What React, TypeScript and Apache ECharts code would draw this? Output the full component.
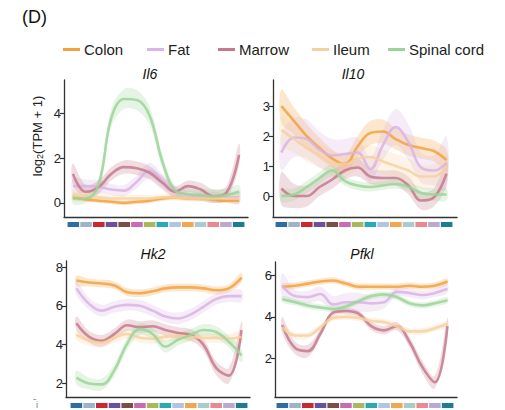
import React, { useEffect, useRef } from "react";
import * as echarts from "echarts";

// ---------- data ----------
const tissues = ["Colon", "Fat", "Marrow", "Ileum", "Spinal cord"];
const tissueColors = ["#f2a241", "#d9b4e4", "#c47a8c", "#f8d0a0", "#9cd498"];
const cellTypeColors = [
  "#2e6da4", "#9fb3c8", "#c8282e", "#6b4fa0", "#7a4e45", "#c86bb5", "#a8b85c",
  "#2aa8b8", "#b0c4e6", "#f2a64e", "#a8cccc", "#e98a92", "#bba9d4", "#1b7c93",
];
const cellIndex = [0, 1, 2, 3, 4, 5, 6, 7, 8, 9, 10, 11, 12, 13];
const genes = ["Il6", "Il10", "Hk2", "Pfkl"];

// means per tissue (Colon, Fat, Marrow, Ileum, Spinal cord)
const il6Mean = [
  [0.25, 0.15, 0.1, 0.05, 0.0, 0.05, 0.1, 0.2, 0.25, 0.2, 0.2, 0.15, 0.1, 0.1],
  [0.75, 0.75, 0.72, 0.6, 0.55, 0.95, 1.45, 1.0, 0.5, 0.35, 0.3, 0.3, 0.25, 0.25],
  [1.3, 0.5, 0.7, 1.3, 1.6, 1.55, 1.35, 0.9, 0.5, 0.75, 0.6, 0.3, 0.45, 2.15],
  [0.35, 0.3, 0.25, 0.2, 0.2, 0.2, 0.2, 0.25, 0.25, 0.2, 0.2, 0.2, 0.2, 0.2],
  [0.2, 0.2, 0.8, 3.8, 4.65, 4.6, 3.9, 1.85, 0.55, 0.4, 0.35, 0.3, 0.35, 0.5],
];
const il6Band = [
  [0.1, 0.1, 0.1, 0.1, 0.1, 0.1, 0.1, 0.1, 0.1, 0.1, 0.1, 0.1, 0.1, 0.1],
  [0.35, 0.3, 0.3, 0.25, 0.25, 0.3, 0.35, 0.3, 0.25, 0.2, 0.2, 0.2, 0.2, 0.3],
  [0.45, 0.3, 0.3, 0.3, 0.3, 0.3, 0.3, 0.3, 0.25, 0.25, 0.3, 0.3, 0.3, 0.5],
  [0.25, 0.2, 0.15, 0.15, 0.15, 0.15, 0.15, 0.15, 0.15, 0.15, 0.15, 0.2, 0.2, 0.25],
  [0.25, 0.2, 0.3, 0.4, 0.45, 0.45, 0.4, 0.3, 0.2, 0.25, 0.25, 0.3, 0.3, 0.3],
];
const il10Mean = [
  [3.0, 2.5, 2.0, 1.6, 1.25, 1.05, 1.65, 2.1, 2.15, 1.9, 1.7, 1.6, 1.5, 1.2],
  [1.45, 1.95, 1.9, 1.55, 1.35, 1.4, 1.45, 0.9, 1.7, 2.3, 1.8, 0.95, 0.85, 1.1],
  [0.25, 0.0, 0.0, 0.3, 0.55, 0.85, 0.95, 0.65, 0.6, 0.6, 0.35, -0.15, -0.05, 0.75],
  [2.2, 1.9, 1.6, 1.35, 1.1, 1.05, 1.25, 1.3, 1.15, 1.0, 0.85, 0.65, 0.65, 1.0],
  [0.0, 0.05, 0.3, 0.6, 0.85, 0.5, 0.35, 0.3, 0.35, 0.4, 0.3, 0.1, 0.05, 0.05],
];
const il10Band = [
  [0.55, 0.45, 0.4, 0.35, 0.3, 0.3, 0.35, 0.4, 0.4, 0.35, 0.35, 0.35, 0.35, 0.35],
  [0.6, 0.65, 0.65, 0.6, 0.55, 0.5, 0.5, 0.4, 0.5, 0.6, 0.6, 0.5, 0.5, 0.9],
  [0.55, 0.4, 0.35, 0.3, 0.3, 0.3, 0.3, 0.25, 0.25, 0.25, 0.3, 0.3, 0.3, 0.4],
  [0.5, 0.45, 0.45, 0.4, 0.4, 0.4, 0.4, 0.4, 0.4, 0.4, 0.4, 0.4, 0.4, 0.45],
  [0.2, 0.2, 0.2, 0.2, 0.2, 0.15, 0.15, 0.15, 0.15, 0.15, 0.15, 0.2, 0.2, 0.2],
];
const hk2Mean = [
  [7.3, 7.2, 7.15, 7.05, 6.7, 6.65, 6.75, 6.9, 6.95, 6.95, 6.9, 6.8, 6.9, 7.45],
  [6.9, 6.1, 5.75, 5.95, 6.05, 6.0, 5.75, 5.45, 5.35, 5.55, 5.95, 6.35, 6.5, 6.5],
  [5.1, 4.4, 4.2, 4.55, 5.0, 4.9, 4.95, 4.75, 4.6, 4.5, 4.0, 2.8, 2.4, 4.75],
  [4.5, 4.2, 4.1, 4.35, 4.55, 4.35, 4.3, 4.4, 4.45, 4.4, 4.35, 4.35, 4.3, 4.4],
  [2.3, 2.0, 1.95, 2.7, 4.05, 4.8, 4.55, 3.9, 4.25, 4.5, 4.75, 4.65, 4.15, 3.45],
];
const hk2Band = [
  [0.25, 0.2, 0.2, 0.2, 0.2, 0.2, 0.2, 0.2, 0.2, 0.2, 0.2, 0.2, 0.2, 0.25],
  [0.35, 0.3, 0.3, 0.3, 0.3, 0.3, 0.3, 0.3, 0.3, 0.3, 0.3, 0.3, 0.3, 0.3],
  [0.35, 0.3, 0.3, 0.3, 0.3, 0.3, 0.3, 0.3, 0.3, 0.3, 0.3, 0.35, 0.4, 0.45],
  [0.25, 0.25, 0.25, 0.25, 0.25, 0.25, 0.25, 0.25, 0.25, 0.25, 0.25, 0.25, 0.25, 0.25],
  [0.35, 0.3, 0.3, 0.3, 0.3, 0.3, 0.3, 0.3, 0.3, 0.3, 0.3, 0.3, 0.3, 0.35],
];
const pfklMean = [
  [5.45, 5.5, 5.6, 5.7, 5.75, 5.6, 5.45, 5.45, 5.45, 5.45, 5.5, 5.45, 5.5, 5.7],
  [5.5, 5.0, 4.95, 5.1, 4.6, 4.7, 4.7, 4.65, 4.7, 5.2, 5.15, 5.05, 5.15, 5.35],
  [3.6, 2.5, 2.35, 3.2, 4.2, 4.28, 4.15, 3.55, 3.35, 3.55, 2.8, 1.6, 0.85, 3.55],
  [3.5, 3.1, 3.1, 3.5, 3.95, 4.0, 3.95, 3.8, 3.75, 3.55, 3.3, 3.3, 3.45, 3.65],
  [4.85, 4.7, 4.55, 4.45, 4.38, 4.5, 4.75, 5.0, 5.08, 4.95, 4.65, 4.55, 4.65, 4.8],
];
const pfklBand = [
  [0.15, 0.15, 0.15, 0.15, 0.15, 0.15, 0.15, 0.15, 0.15, 0.15, 0.15, 0.15, 0.15, 0.15],
  [0.6, 0.3, 0.3, 0.35, 0.4, 0.45, 0.45, 0.4, 0.3, 0.2, 0.2, 0.2, 0.2, 0.2],
  [0.4, 0.3, 0.3, 0.2, 0.15, 0.15, 0.15, 0.2, 0.2, 0.2, 0.25, 0.3, 0.3, 0.4],
  [0.15, 0.15, 0.15, 0.15, 0.15, 0.15, 0.15, 0.15, 0.15, 0.15, 0.15, 0.15, 0.15, 0.15],
  [0.15, 0.15, 0.15, 0.15, 0.15, 0.15, 0.15, 0.15, 0.15, 0.15, 0.15, 0.15, 0.15, 0.15],
];
const il6Ticks = [0, 2, 4];
const il10Ticks = [0, 1, 2, 3];
const hk2Ticks = [2, 4, 6, 8];
const pfklTicks = [2, 4, 6];

const geneMeans = [il6Mean, il10Mean, hk2Mean, pfklMean];
const geneBands = [il6Band, il10Band, hk2Band, pfklBand];
const geneTicks = [il6Ticks, il10Ticks, hk2Ticks, pfklTicks];

// ---------- layout ----------
const FONT = "Liberation Sans, Arial, sans-serif";
const panels = [
  { left: 64, top: 80, width: 184, height: 137, xmin: -0.7, xmax: 13.7, ymin: -0.63, ymax: 5.5, barLeft: 67, barTop: 222, tx: 150, ty: 74 },
  { left: 273, top: 80, width: 184, height: 137, xmin: -0.66, xmax: 13.83, ymin: -0.7, ymax: 3.87, barLeft: 275, barTop: 222, tx: 353, ty: 74 },
  { left: 66, top: 261, width: 184, height: 136, xmin: -0.82, xmax: 13.67, ymin: 1.3, ymax: 8.31, barLeft: 70, barTop: 403, tx: 153, ty: 254 },
  { left: 275, top: 262, width: 182, height: 135, xmin: -0.58, xmax: 13.75, ymin: 0.14, ymax: 6.64, barLeft: 276, barTop: 403, tx: 362, ty: 254 },
];
const legendLefts = [63, 147, 218, 312, 388];

export default function App() {
  const ref = useRef<HTMLDivElement>(null);
  useEffect(() => {
    if (!ref.current) return;
    const chart = echarts.init(ref.current, undefined, { renderer: "svg" });

    const grid: any[] = [];
    const xAxis: any[] = [];
    const yAxis: any[] = [];
    const series: any[] = [];

    panels.forEach((p, pi) => {
      grid.push({ left: p.left, top: p.top, width: p.width, height: p.height, containLabel: false });
      xAxis.push({
        type: "value", gridIndex: pi, min: p.xmin, max: p.xmax,
        axisLine: { show: true, onZero: false, lineStyle: { color: "#333", width: 1.3 } },
        axisTick: { show: false }, axisLabel: { show: false }, splitLine: { show: false },
      });
      yAxis.push({
        type: "value", gridIndex: pi, min: p.ymin, max: p.ymax,
        axisLine: { show: true, onZero: false, lineStyle: { color: "#333", width: 1.3 } },
        axisTick: { show: true, length: 4, customValues: geneTicks[pi], lineStyle: { color: "#333", width: 1.2 } },
        axisLabel: { show: true, customValues: geneTicks[pi], fontSize: 13, color: "#222", margin: 3, fontFamily: FONT },
        splitLine: { show: false },
      });
    });
    panels.forEach((p, pi) => {
      grid.push({ left: p.barLeft, top: p.barTop, width: 178, height: 5 });
      xAxis.push({
        type: "category", gridIndex: 4 + pi, data: cellIndex.map(String),
        axisLine: { show: false }, axisTick: { show: false }, axisLabel: { show: false },
      });
      yAxis.push({
        type: "value", gridIndex: 4 + pi, min: 0, max: 1,
        axisLine: { show: false }, axisTick: { show: false }, axisLabel: { show: false }, splitLine: { show: false },
      });
      series.push({
        type: "bar", xAxisIndex: 4 + pi, yAxisIndex: 4 + pi, silent: true,
        barCategoryGap: "9%",
        data: cellIndex.map((i) => ({ value: 1, itemStyle: { color: cellTypeColors[i] } })),
      });
    });

    panels.forEach((p, pi) => {
      const means = geneMeans[pi];
      const bands = geneBands[pi];
      tissues.forEach((t, k) => {
        series.push({
          type: "custom", name: `${t} band`, xAxisIndex: pi, yAxisIndex: pi, silent: true, z: 1,
          clip: true,
          data: cellIndex.map((i) => [i, means[k][i] - bands[k][i], means[k][i] + bands[k][i]]),
          renderItem: (params: any, api: any) => {
            if (params.dataIndex !== 0) return null;
            const upper = cellIndex.map((i) => api.coord([i, means[k][i] + bands[k][i]]));
            const lower = cellIndex.map((i) => api.coord([i, means[k][i] - bands[k][i]])).reverse();
            return {
              type: "polygon",
              shape: { points: upper.concat(lower), smooth: 0.35 },
              style: { fill: tissueColors[k], opacity: 0.26 },
            };
          },
        });
      });
      tissues.forEach((t, k) => {
        series.push({
          type: "line", name: t, xAxisIndex: pi, yAxisIndex: pi,
          data: cellIndex.map((i) => [i, means[k][i]]),
          smooth: 0.4, symbol: "none", silent: true,
          itemStyle: { color: tissueColors[k] },
          lineStyle: { color: tissueColors[k], width: 2.6, opacity: 0.85 }, z: 3,
        });
      });
    });

    const legend = tissues.map((t, k) => ({
      data: [t], left: legendLefts[k], top: 42, padding: 0, icon: "rect",
      itemWidth: 17, itemHeight: 3, itemGap: 4, selectedMode: false,
      textStyle: { fontSize: 15, color: "#222", fontFamily: FONT, padding: [0, 0, 0, -1] },
    }));

    const graphic: any[] = [
      { type: "text", left: 22, top: 8, style: { text: "(D)", fontSize: 18, fill: "#111", fontFamily: FONT } },
      {
        type: "text", x: 37, y: 136, rotation: Math.PI / 2,
        style: {
          text: "log{s|2}(TPM + 1)", fontSize: 13, fill: "#222", fontFamily: FONT,
          align: "center", verticalAlign: "middle",
          rich: { s: { fontSize: 9, fill: "#222", fontFamily: FONT, padding: [6, 0, 0, 0] } },
        },
      },
      { type: "text", x: 33, y: 393, style: { text: "-", fontSize: 10, fill: "#7a8a9a", fontFamily: FONT } },
      { type: "text", x: 36, y: 400, style: { text: "i", fontSize: 9, fill: "#5b7aa0", fontFamily: FONT } },
    ];
    panels.forEach((p, pi) => {
      graphic.push({
        type: "text", x: p.tx, y: p.ty,
        style: { text: genes[pi], fontSize: 14, fontStyle: "italic", fill: "#111", fontFamily: FONT, align: "center", verticalAlign: "middle" },
      });
    });

    chart.setOption({
      animation: false,
      backgroundColor: "#ffffff",
      textStyle: { fontFamily: FONT },
      grid, xAxis, yAxis, series, legend, graphic,
    });
    return () => chart.dispose();
  }, []);
  return <div ref={ref} style={{ position: "fixed", left: 0, top: 0, width: 505, height: 410 }} />;
}
